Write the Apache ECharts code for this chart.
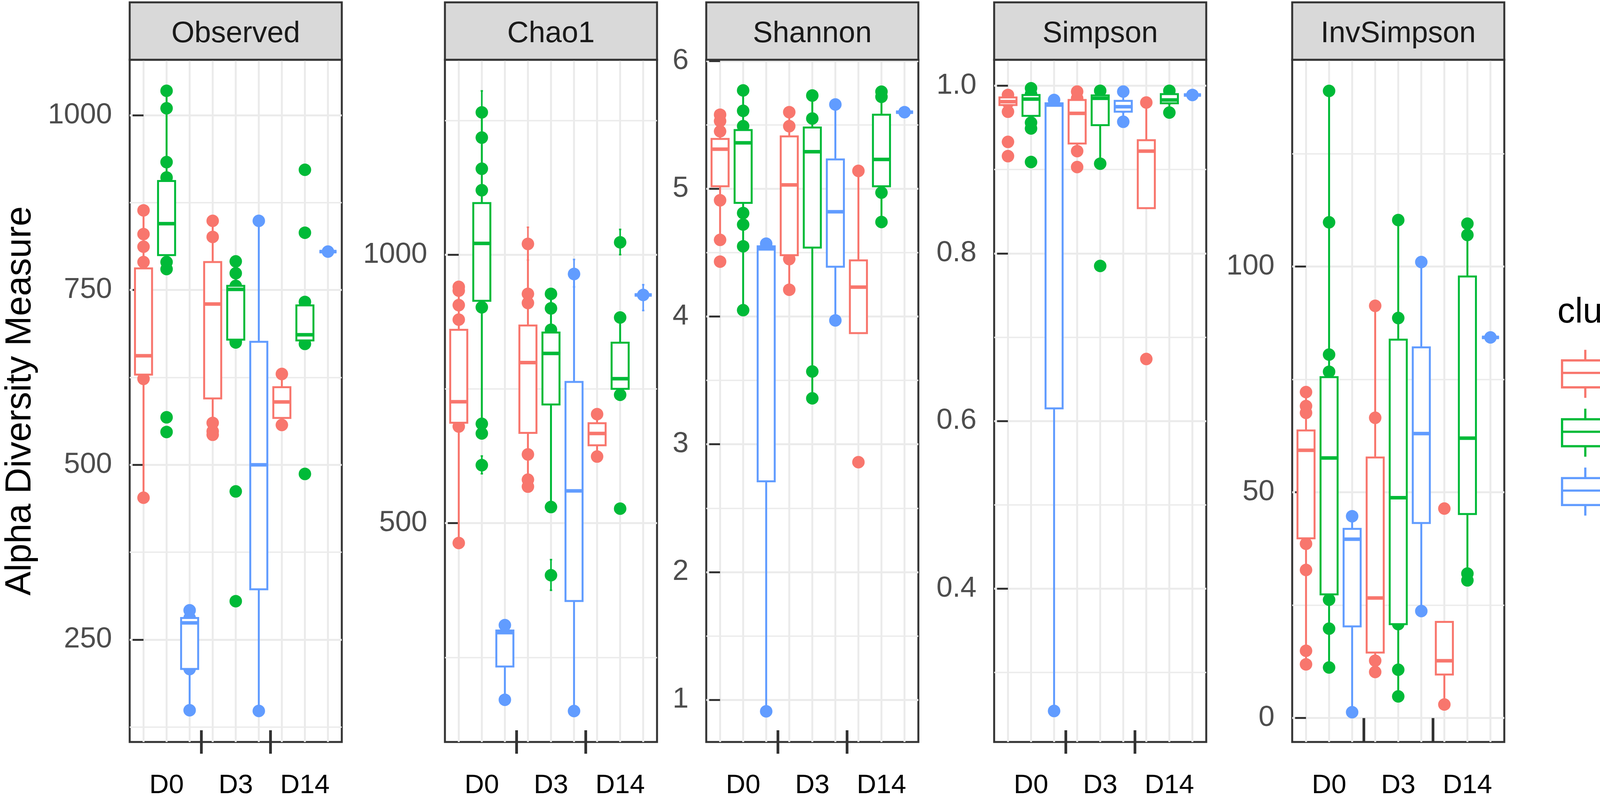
<!DOCTYPE html>
<html>
<head>
<meta charset="utf-8">
<title>Alpha diversity by cluster</title>
<script src="https://cdn.jsdelivr.net/npm/echarts@6.0.0/dist/echarts.min.js"></script>
<style>
  html, body { margin: 0; padding: 0; background: #fff; }
  #chart { width: 4279px; height: 2046px; }
</style>
</head>
<body>
<div id="chart"></div>
<script>
// slot order on the x axis: C1-D0, C2-D0, C3-D0, C1-D3, ... C3-D14
const clusters = ['C1', 'C2', 'C3'];
const days = ['D0', 'D3', 'D14'];
const clusterColors = ['#F8766D', '#00BA38', '#619CFF'];

// box stats per slot: [lower whisker, Q1, median, Q3, upper whisker]
const observedBoxes = [
  [453, 629, 656, 781, 864], [780, 800, 845, 906, 1035], [149, 208, 274, 281, 292],
  [543, 595, 730, 790, 849], [675, 679, 751, 756, 791], [148, 322, 500, 676, 849],
  [557, 567, 590, 611, 630], [673, 678, 686, 728, 733], [805, 805, 805, 805, 805]
];
const observedPoints = [
  [864, 830, 812, 790, 700, 656, 623, 453], [1035, 1010, 933, 911, 845, 790, 780, 568, 547], [292, 281, 274, 208, 149],
  [849, 826, 760, 700, 560, 548, 543], [791, 774, 756, 720, 677, 675, 462, 305], [849, 500, 148],
  [630, 590, 557], [922, 832, 733, 700, 673, 487], [805]
];

const chao1Boxes = [
  [463, 687, 726, 860, 940], [667, 914, 1021, 1096, 1265], [171, 233, 296, 300, 310],
  [568, 668, 799, 868, 1020], [530, 721, 816, 855, 927], [150, 355, 560, 763, 964],
  [624, 645, 667, 686, 703], [739, 750, 769, 836, 883], [925, 925, 925, 925, 925]
];
const chao1Points = [
  [940, 933, 906, 879, 800, 680, 463], [1265, 1218, 1160, 1120, 1000, 902, 685, 667, 608], [310, 260, 171],
  [1020, 927, 910, 800, 628, 581, 568], [927, 900, 860, 530, 403], [964, 560, 150],
  [703, 667, 624], [1023, 883, 800, 739, 527], [925]
];
// Chao1 standard-error bars that stick out past their points: [slot, low, high]
const chao1Errors = [
  [1, 1225, 1305], [1, 592, 625], [3, 990, 1051], [4, 375, 432],
  [5, 940, 991], [7, 1000, 1047], [8, 896, 944]
];

const shannonBoxes = [
  [4.60, 5.02, 5.31, 5.39, 5.58], [4.05, 4.89, 5.36, 5.46, 5.77], [0.91, 2.71, 4.53, 4.55, 4.57],
  [4.21, 4.48, 5.03, 5.41, 5.60], [3.36, 4.54, 5.29, 5.48, 5.73], [3.97, 4.39, 4.82, 5.23, 5.66],
  [3.87, 3.87, 4.23, 4.44, 5.14], [4.74, 5.02, 5.23, 5.58, 5.76], [5.60, 5.60, 5.60, 5.60, 5.60]
];
const shannonPoints = [
  [5.58, 5.53, 5.45, 5.20, 4.91, 4.60, 4.43], [5.77, 5.61, 5.49, 5.10, 4.81, 4.72, 4.55, 4.05], [4.57, 4.55, 0.91],
  [5.60, 5.49, 5.00, 4.45, 4.21], [5.73, 5.55, 5.00, 3.57, 3.36], [5.66, 4.82, 3.97],
  [5.14, 4.20, 2.86], [5.76, 5.72, 5.30, 4.97, 4.74], [5.60]
];

const simpsonBoxes = [
  [0.969, 0.977, 0.981, 0.986, 0.989], [0.949, 0.964, 0.984, 0.989, 0.997], [0.254, 0.615, 0.977, 0.979, 0.983],
  [0.922, 0.931, 0.967, 0.983, 0.993], [0.907, 0.953, 0.985, 0.9885, 0.994], [0.957, 0.969, 0.975, 0.982, 0.993],
  [0.854, 0.854, 0.922, 0.935, 0.980], [0.968, 0.979, 0.983, 0.990, 0.994], [0.989, 0.989, 0.989, 0.989, 0.989]
];
const simpsonPoints = [
  [0.989, 0.980, 0.969, 0.933, 0.916], [0.997, 0.990, 0.975, 0.956, 0.949, 0.909], [0.983, 0.900, 0.254],
  [0.993, 0.985, 0.950, 0.922, 0.903], [0.994, 0.980, 0.907, 0.785], [0.993, 0.975, 0.957],
  [0.980, 0.900, 0.674], [0.994, 0.985, 0.968], [0.989]
];

const invSimpsonBoxes = [
  [11.9, 39.8, 59.3, 63.7, 72.2], [11.2, 27.4, 57.6, 75.5, 138.9], [1.3, 20.3, 39.6, 41.9, 44.7],
  [10.2, 14.5, 26.6, 57.7, 91.3], [4.8, 20.8, 48.8, 83.8, 110.3], [23.7, 43.2, 63.0, 82.1, 101.0],
  [3.0, 9.65, 12.7, 21.3, 21.3], [30.5, 45.2, 62.0, 97.8, 109.5], [84.3, 84.3, 84.3, 84.3, 84.3]
];
const invSimpsonPoints = [
  [72.2, 69.1, 67.6, 50.0, 38.6, 32.8, 14.9, 11.9], [138.9, 109.8, 80.5, 76.7, 40.0, 26.2, 19.8, 11.2], [44.7, 30.0, 1.3],
  [91.3, 66.5, 30.0, 12.7, 10.2], [110.3, 88.6, 50.0, 20.8, 10.7, 4.8], [101.0, 60.0, 23.7],
  [46.4, 12.0, 3.0], [109.5, 107.0, 70.0, 32.0, 30.5], [84.3]
];

// y ranges (ggplot 5% expansion) and tick values
const observedRange = [103.6, 1079.4], observedTicks = [250, 500, 750, 1000], observedMinor = [125, 375, 625, 875];
const chao1Range = [92.4, 1363], chao1Ticks = [500, 1000], chao1Minor = [250, 750, 1250];
const shannonRange = [0.67, 6.01], shannonTicks = [1, 2, 3, 4, 5, 6], shannonMinor = [1.5, 2.5, 3.5, 4.5, 5.5];
const simpsonRange = [0.217, 1.031], simpsonTicks = [0.4, 0.6, 0.8, 1.0], simpsonMinor = [0.3, 0.5, 0.7, 0.9];
const invSimpsonRange = [-5.3, 145.8], invSimpsonTicks = [0, 50, 100], invSimpsonMinor = [25, 75, 125];

// x positions: 9 slots, day labels sit on the middle slot of each group
const slotValues = [0, 1, 2, 3, 4, 5, 6, 7, 8];
const dayLabelSlots = [1, 4, 7];
const dayTickSlots = [2.5, 5.5];

const panels = [
  { title: 'Observed', boxes: observedBoxes, points: observedPoints, errors: [], range: observedRange, ticks: observedTicks, minor: observedMinor, digits: 0 },
  { title: 'Chao1', boxes: chao1Boxes, points: chao1Points, errors: chao1Errors, range: chao1Range, ticks: chao1Ticks, minor: chao1Minor, digits: 0 },
  { title: 'Shannon', boxes: shannonBoxes, points: shannonPoints, errors: [], range: shannonRange, ticks: shannonTicks, minor: shannonMinor, digits: 0 },
  { title: 'Simpson', boxes: simpsonBoxes, points: simpsonPoints, errors: [], range: simpsonRange, ticks: simpsonTicks, minor: simpsonMinor, digits: 1 },
  { title: 'InvSimpson', boxes: invSimpsonBoxes, points: invSimpsonPoints, errors: [], range: invSimpsonRange, ticks: invSimpsonTicks, minor: invSimpsonMinor, digits: 0 }
];

// layout
const panelLeft = [332, 1139, 1808, 2545, 3308];
const panelWidth = 543;
const panelTop = 153;
const panelHeight = 1747;
const stripTop = 6;
const FONT = "'Liberation Sans', Arial, sans-serif";
const BOX_WIDTH = 0.74;

function renderBox(params, api) {
  const x = api.value(0);
  const lo = api.coord([x, api.value(1)]);
  const q1 = api.coord([x, api.value(2)]);
  const md = api.coord([x, api.value(3)]);
  const q3 = api.coord([x, api.value(4)]);
  const hi = api.coord([x, api.value(5)]);
  const half = api.size([BOX_WIDTH, 0])[0] / 2;
  const color = api.visual('color');
  const st = { stroke: color, lineWidth: 5 };
  return {
    type: 'group',
    children: [
      { type: 'line', shape: { x1: lo[0], y1: lo[1], x2: q1[0], y2: q1[1] }, style: st },
      { type: 'line', shape: { x1: q3[0], y1: q3[1], x2: hi[0], y2: hi[1] }, style: st },
      { type: 'rect', shape: { x: md[0] - half, y: q3[1], width: 2 * half, height: q1[1] - q3[1] },
        style: { fill: '#fff', stroke: color, lineWidth: 5 } },
      { type: 'line', shape: { x1: md[0] - half, y1: md[1], x2: md[0] + half, y2: md[1] },
        style: { stroke: color, lineWidth: 9 } }
    ]
  };
}

function renderErrorBar(params, api) {
  const x = api.value(0);
  const lo = api.coord([x, api.value(1)]);
  const hi = api.coord([x, api.value(2)]);
  const half = api.size([0.1, 0])[0] / 2;
  const st = { stroke: api.visual('color'), lineWidth: 4 };
  return {
    type: 'group',
    children: [
      { type: 'line', shape: { x1: lo[0], y1: lo[1], x2: hi[0], y2: hi[1] }, style: st },
      { type: 'line', shape: { x1: lo[0] - half, y1: lo[1], x2: lo[0] + half, y2: lo[1] }, style: st },
      { type: 'line', shape: { x1: hi[0] - half, y1: hi[1], x2: hi[0] + half, y2: hi[1] }, style: st }
    ]
  };
}

const grids = [], xAxes = [], yAxes = [], series = [], graphics = [];

panels.forEach(function (p, g) {
  grids.push({
    left: panelLeft[g], top: panelTop, width: panelWidth, height: panelHeight,
    show: true, backgroundColor: '#fff', borderColor: '#333333', borderWidth: 5,
    outerBoundsMode: 'none', containLabel: false
  });

  // x axis carrying the vertical grid lines
  xAxes.push({
    gridIndex: g, type: 'value', position: 'top', min: -0.6, max: 8.6,
    axisLine: { show: false },
    axisTick: { show: false, customValues: slotValues },
    axisLabel: { show: false },
    splitLine: { show: true, lineStyle: { color: '#EBEBEB', width: 5 } }
  });
  // x axis carrying the day ticks and labels
  xAxes.push({
    gridIndex: g, type: 'value', position: 'bottom', min: -0.6, max: 8.6, offset: -30,
    axisLine: { show: false },
    axisTick: { show: true, customValues: dayTickSlots, length: 60, lineStyle: { color: '#333333', width: 7 } },
    axisLabel: {
      show: true, customValues: dayLabelSlots, margin: 142, verticalAlign: 'middle',
      fontFamily: FONT, fontSize: 69, color: '#000',
      formatter: function (v) { return days[dayLabelSlots.indexOf(Math.round(v))]; }
    },
    splitLine: { show: false }
  });

  const yMain = {
    gridIndex: g, type: 'value', position: 'left', min: p.range[0], max: p.range[1],
    axisLine: { show: false },
    axisTick: { show: true, customValues: p.ticks, length: 28, lineStyle: { color: '#333333', width: 5 } },
    axisLabel: {
      show: true, customValues: p.ticks, margin: 45,
      fontFamily: FONT, fontSize: 74, color: '#4D4D4D',
      formatter: (function (d) { return function (v) { return v.toFixed(d); }; })(p.digits)
    },
    splitLine: { show: true, lineStyle: { color: '#EBEBEB', width: 5 } }
  };
  if (g === 0) {
    yMain.name = 'Alpha Diversity Measure';
    yMain.nameLocation = 'middle';
    yMain.nameGap = 233;
    yMain.nameTextStyle = { fontFamily: FONT, fontSize: 92, color: '#000' };
  }
  yAxes.push(yMain);
  // minor horizontal grid lines
  yAxes.push({
    gridIndex: g, type: 'value', position: 'left', min: p.range[0], max: p.range[1],
    axisLine: { show: false },
    axisTick: { show: false, customValues: p.minor },
    axisLabel: { show: false },
    splitLine: { show: true, lineStyle: { color: '#EBEBEB', width: 3.5 } }
  });

  clusters.forEach(function (c, ci) {
    const ptData = [], boxData = [];
    days.forEach(function (d, di) {
      const slot = di * 3 + ci;
      p.points[slot].forEach(function (v) { ptData.push([slot, v]); });
      boxData.push([slot].concat(p.boxes[slot]));
    });
    series.push({
      name: c, type: 'scatter', xAxisIndex: 2 * g, yAxisIndex: 2 * g, z: 2,
      symbol: 'circle', symbolSize: 32, itemStyle: { color: clusterColors[ci], opacity: 1 },
      data: ptData, silent: true
    });
    const errData = p.errors.filter(function (e) { return e[0] % 3 === ci; });
    if (errData.length) {
      series.push({
        name: c, type: 'custom', xAxisIndex: 2 * g, yAxisIndex: 2 * g, z: 3,
        itemStyle: { color: clusterColors[ci] }, renderItem: renderErrorBar,
        encode: { x: 0, y: [1, 2] }, data: errData, silent: true
      });
    }
    series.push({
      name: c, type: 'custom', xAxisIndex: 2 * g, yAxisIndex: 2 * g, z: 4,
      itemStyle: { color: clusterColors[ci] }, renderItem: renderBox,
      encode: { x: 0, y: [1, 2, 3, 4, 5] }, data: boxData, silent: true
    });
  });

  // facet strip
  graphics.push({
    type: 'rect', z: 10,
    shape: { x: panelLeft[g], y: stripTop, width: panelWidth, height: panelTop - stripTop },
    style: { fill: '#D9D9D9', stroke: '#333333', lineWidth: 5 }
  });
  graphics.push({
    type: 'text', z: 11,
    x: panelLeft[g] + panelWidth / 2, y: 87,
    style: { text: p.title, fill: '#1A1A1A', font: '76px ' + FONT, align: 'center', verticalAlign: 'middle' }
  });
});

graphics.push({
  type: 'text', z: 11, x: 3987, y: 801,
  style: { text: 'cluster', fill: '#000', font: '90px ' + FONT, align: 'left', verticalAlign: 'middle' }
});

const legendIcon = 'path://M59.5,0V27M0,27H119V96H0ZM0,59H119M59.5,96V123';

const option = {
  animation: false,
  backgroundColor: '#fff',
  grid: grids,
  xAxis: xAxes,
  yAxis: yAxes,
  legend: {
    orient: 'vertical', left: 3996, top: 893, padding: 0,
    itemWidth: 119, itemHeight: 123, itemGap: 22, selectedMode: false,
    textStyle: { fontFamily: FONT, fontSize: 74, color: '#000', padding: [0, 0, 0, 55] },
    data: clusters.map(function (c, i) {
      return { name: c, icon: legendIcon, itemStyle: { color: '#fff', borderColor: clusterColors[i], borderWidth: 5.7 } };
    })
  },
  graphic: graphics,
  series: series
};

const chart = echarts.init(document.getElementById('chart'), null, { renderer: 'canvas' });
chart.setOption(option);
</script>
</body>
</html>
